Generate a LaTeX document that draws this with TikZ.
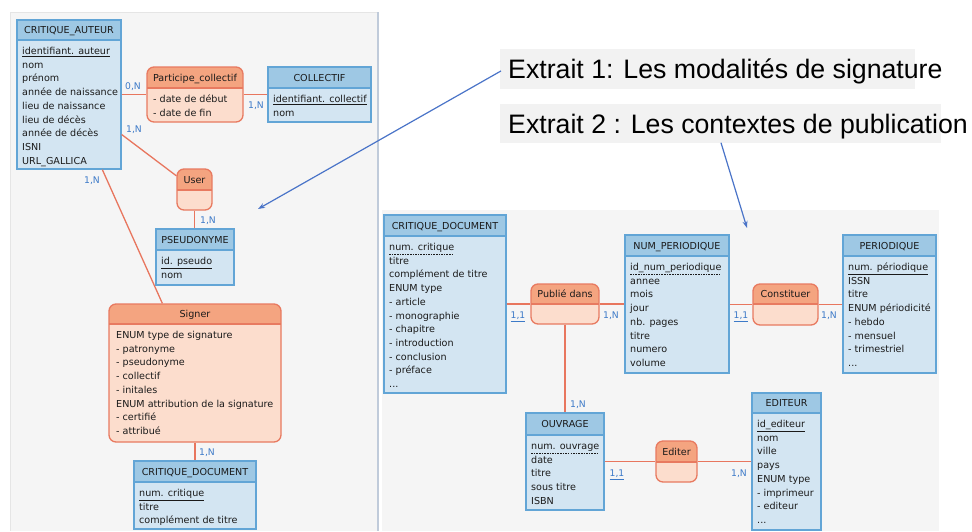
\documentclass[tikz,border=0pt]{standalone}
\usepackage{fontspec}
\setmainfont{DejaVu Sans}
\newfontfamily\arialf{Liberation Sans}
\usetikzlibrary{fit,arrows.meta}
\newcommand\sul[1]{\setbox0=\hbox{#1}\vtop{\copy0\nointerlineskip\kern1.1pt\hbox to\wd0{\leaders\hrule height 0.7pt\hfill}}}
\newcommand\dul[1]{\setbox0=\hbox{#1}\vtop{\copy0\nointerlineskip\kern1.1pt\hbox to\wd0{\xleaders\hbox to 2.6pt{\vrule height 0.7pt width 1.6pt\hss}\hfill}}}
\definecolor{entfill}{HTML}{D3E5F2}
\definecolor{enthead}{HTML}{9EC8E4}
\definecolor{entline}{HTML}{62A5D6}
\definecolor{asfill}{HTML}{FCDDCD}
\definecolor{ashead}{HTML}{F4A480}
\definecolor{asline}{HTML}{E87A60}
\definecolor{linkc}{HTML}{E8765E}
\definecolor{cardc}{HTML}{3D7AC8}
\definecolor{panel}{HTML}{F5F5F5}
\definecolor{panelline}{HTML}{C0CBDA}
\definecolor{arrowc}{HTML}{4A74C8}
\definecolor{txt}{HTML}{1A1A1A}
\definecolor{exbg}{HTML}{F2F2F2}
\tikzset{
  entbox/.style={draw=entline, line width=1.3pt, inner sep=0pt},
  assocbox/.style={draw=asline, line width=1.3pt, inner sep=0pt, rounded corners=7pt},
  ttl/.style={font=\fontsize{9.6}{13.7}\selectfont, text=txt, inner sep=0pt, anchor=base},
  body/.style={font=\fontsize{9.6}{13.7}\selectfont, text=txt, inner sep=0pt, anchor=base west},
  card/.style={font=\fontsize{9.2}{11}\selectfont, text=cardc, inner sep=0pt, anchor=base},
  link/.style={draw=linkc, line width=1.3pt},
  bluearrow/.style={draw=arrowc, line width=1.2pt, -{Stealth[length=7pt,width=5pt]}},
  extrait/.style={font=\arialf\fontsize{26.7}{30}\selectfont, text=black, inner sep=0pt, anchor=base west}
}
\newcommand\lines[1]{\begin{tabular}[t]{@{}l@{}}#1\end{tabular}}
% entity: name, x1, y1, x2, y2, yh, title, body
\newcommand\entity[8]{%
  \fill[entfill] (#2,#3) rectangle (#4,#5);
  \fill[enthead] (#2,#3) rectangle (#4,#6);
  \draw[entline, line width=1.3pt] (#2,#6) -- (#4,#6);
  \node[entbox, fit={(#2,#3) (#4,#5)}] (#1) {};
  \node[ttl] (#1-t) at ({(#2+#4)/2},{(#3+#6)/2+3.5}) {#7};
  \node[body] (#1-b) at ({#2+5},{#6+14.5}) {\lines{#8}};
}
% association: name, x1, y1, x2, y2, yh, title, body, body x offset
\newcommand\assoc[9]{%
  \fill[asfill, rounded corners=7pt] (#2,#3) rectangle (#4,#5);
  \begin{scope}
    \clip[rounded corners=7pt] (#2,#3) rectangle (#4,#5);
    \fill[ashead] (#2,#3) rectangle (#4,#6);
  \end{scope}
  \draw[asline, line width=1.3pt] (#2,#6) -- (#4,#6);
  \node[assocbox, fit={(#2,#3) (#4,#5)}] (#1) {};
  \node[ttl] (#1-t) at ({(#2+#4)/2},{(#3+#6)/2+3.5}) {#7};
  \node[body] (#1-b) at ({#2+#9},{#6+14.5}) {\lines{#8}};
}
\begin{document}
\begin{tikzpicture}[x=1pt,y=-1pt]
\useasboundingbox (0,0) rectangle (972,531);
\fill[white] (0,0) rectangle (972,531);
% panels
\fill[panel] (10,12) rectangle (378,531);
\draw[gray!20, line width=0.6pt] (10,531) -- (10,12) -- (378,12);
\draw[panelline, line width=1.5pt] (378,12) -- (378,531);
\fill[panel] (382,210) rectangle (939,531);

% Extrait labels
\fill[exbg] (500,49) rectangle (915,89);
\fill[exbg] (500,104) rectangle (941,143);
\node[extrait] (ex1) at (508,78) {Extrait 1: Les modalités de signature};
\node[extrait] (ex2) at (508,133) {Extrait 2 : Les contextes de publication};

% ---- Extrait 1 ----
\entity{ca}{17}{20}{121}{169}{40}{CRITIQUE\_AUTEUR}{\sul{identifiant. auteur}\\nom\\prénom\\année de naissance\\lieu de naissance\\lieu de décès\\année de décès\\ISNI\\URL\_GALLICA}
\assoc{pc}{147}{67}{243}{122}{88}{Participe\_collectif}{- date de début\\- date de fin}{6}
\entity{col}{268}{67}{371}{122}{88}{COLLECTIF}{\sul{identifiant. collectif}\\nom}
\assoc{user}{177}{169}{212}{210}{190}{User}{}{5}
\entity{pseudo}{156}{229}{234}{285}{250}{PSEUDONYME}{\sul{id. pseudo}\\nom}
\assoc{signer}{109}{304}{281}{442}{324}{Signer}{ENUM type de signature\\- patronyme\\- pseudonyme\\- collectif\\- initales\\ENUM attribution de la signature\\- certifié\\- attribué}{7}
\entity{cdA}{134}{461}{256}{529}{482}{CRITIQUE\_DOCUMENT}{\sul{num. critique}\\titre\\complément de titre}

% ---- Extrait 2 ----
\entity{cdB}{384}{215}{506}{393}{236}{CRITIQUE\_DOCUMENT}{\dul{num. critique}\\titre\\complément de titre\\ENUM type\\- article\\- monographie\\- chapitre\\- introduction\\- conclusion\\- préface\\...}
\assoc{pub}{531}{284}{599}{324}{304}{Publié dans}{}{5}
\entity{np}{625}{235}{729}{373}{256}{NUM\_PERIODIQUE}{\dul{id\_num\_periodique}\\annee\\mois\\jour\\nb. pages\\titre\\numero\\volume}
\assoc{con}{753}{284}{818}{325}{304}{Constituer}{}{5}
\entity{per}{843}{235}{936}{373}{256}{PERIODIQUE}{\sul{num. périodique}\\ISSN\\titre\\ENUM périodicité\\- hebdo\\- mensuel\\- trimestriel\\...}
\entity{ouv}{526}{413}{604}{510}{435}{OUVRAGE}{\dul{num. ouvrage}\\date\\titre\\sous titre\\ISBN}
\assoc{edt}{656}{441}{697}{482}{462}{Editer}{}{5}
\entity{edi}{752}{393}{821}{530}{413}{EDITEUR}{\sul{id\_editeur}\\nom\\ville\\pays\\ENUM type\\- imprimeur\\- editeur\\...}

% ---- links ----
\draw[link] (ca.east |- pc.west) -- (pc.west);
\draw[link] (pc.east) -- (col.west |- pc.east);
\draw[link] ([yshift=-40pt]ca.east) -- (user);
\draw[link] ([xshift=86pt]ca.south west) -- ([xshift=54pt]signer.north west);
\draw[link] (user.south) -- (user.south |- pseudo.north);
\draw[link] (signer.south) -- (signer.south |- cdA.north);
\draw[link] (cdB.east |- pub.west) -- (pub.west);
\draw[link] (pub.east) -- (np.west |- pub.east);
\draw[link] (np.east |- con.west) -- (con.west);
\draw[link] (con.east) -- (per.west |- con.east);
\draw[link] (pub.south) -- (pub.south |- ouv.north);
\draw[link] (ouv.east |- edt.west) -- (edt.west);
\draw[link] (edt.east) -- (edi.west |- edt.east);

% ---- cardinalities (base line positions) ----
\node[card] (k1) at (133,89.5) {0,N};
\node[card] (k2) at (256,108.5) {1,N};
\node[card] (k3) at (134,132.5) {1,N};
\node[card] (k4) at (92,183.5) {1,N};
\node[card] (k5) at (208,223.5) {1,N};
\node[card] (k6) at (207,455.5) {1,N};
\node[card] (k7) at (518,318.5) {\sul{1,1}};
\node[card] (k8) at (611,318.5) {1,N};
\node[card] (k9) at (741,318.5) {\sul{1,1}};
\node[card] (k10) at (829,318.5) {1,N};
\node[card] (k11) at (578,407.5) {1,N};
\node[card] (k12) at (617,476.5) {\sul{1,1}};
\node[card] (k13) at (739,476.5) {1,N};

% ---- arrows ----
\coordinate (t1) at (258,209);
\coordinate (t2) at (747,228);
\draw[bluearrow] ([xshift=-7pt]ex1.west) -- (t1);
\draw[bluearrow] ([yshift=-4pt]ex2.south -| 721,0) -- (t2);
\end{tikzpicture}
\end{document}
